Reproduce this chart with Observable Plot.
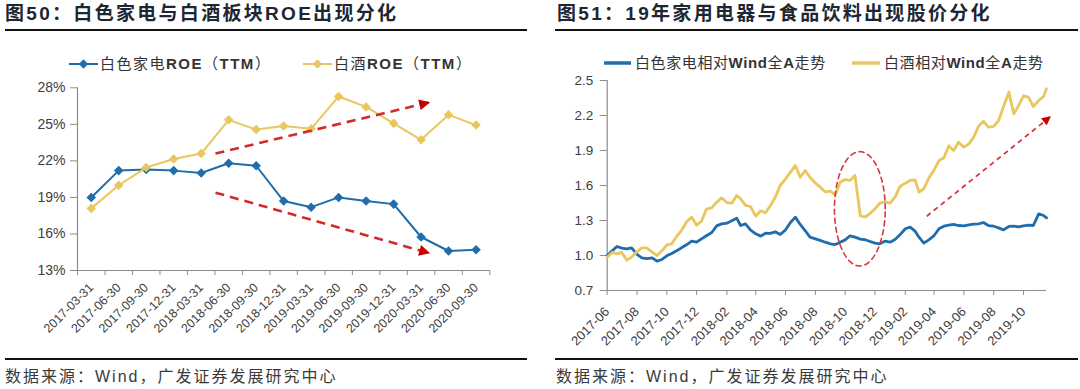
<!DOCTYPE html>
<html>
<head>
<meta charset="utf-8">
<script src="https://cdn.jsdelivr.net/npm/d3@7"></script>
<script src="https://cdn.jsdelivr.net/npm/@observablehq/plot@0.6"></script>
<style>
  body { margin: 0; background: #fff; }
  #wrap { position: relative; width: 1080px; height: 389px; overflow: hidden;
    font-family: "Liberation Sans", Arial, "Noto Sans CJK SC", sans-serif; color: #333; background: #fff; }
  .title { position: absolute; top: 2px; font-size: 19px; line-height: 24px; font-weight: bold; color: #1c2733;
    letter-spacing: 2.3px; white-space: nowrap; }
  .rule { position: absolute; height: 2px; background: #111; }
  .src { position: absolute; top: 367px; font-size: 16px; line-height: 20px; color: #3a3a3a; letter-spacing: 2px; white-space: nowrap; }
  .leg { position: absolute; font-size: 15px; line-height: 20px; color: #333; white-space: nowrap; display: flex; align-items: center; }
  .leg b { font-weight: bold; }
  .chart { position: absolute; }
</style>
</head>
<body>
<div id="wrap">
  <div class="title" style="left:5px">图50：白色家电与白酒板块ROE出现分化</div>
  <div class="rule" style="left:5px;top:29px;width:522px"></div>
  <div class="title" style="left:557px">图51：19年家用电器与食品饮料出现股价分化</div>
  <div class="rule" style="left:555px;top:29px;width:523px"></div>

  <div id="legL"></div>
  <div id="legR"></div>

  <div id="chartL" class="chart" style="left:0px;top:75px"></div>
  <div id="chartR" class="chart" style="left:540px;top:65px"></div>

  <div class="rule" style="left:5px;top:358px;width:522px"></div>
  <div class="rule" style="left:555px;top:358px;width:523px"></div>
  <div class="src" style="left:5px">数据来源：Wind，广发证券发展研究中心</div>
  <div class="src" style="left:556px">数据来源：Wind，广发证券发展研究中心</div>
</div>
<script>
// ---------------- Data: left chart (ROE TTM, %) ----------------
const roeQuarters = ["2017-03-31","2017-06-30","2017-09-30","2017-12-31","2018-03-31","2018-06-30","2018-09-30","2018-12-31","2019-03-31","2019-06-30","2019-09-30","2019-12-31","2020-03-31","2020-06-30","2020-09-30"];
const roeAppliance = [19.0, 21.2, 21.3, 21.2, 21.0, 21.8, 21.6, 18.7, 18.2, 19.0, 18.7, 18.45, 15.75, 14.6, 14.7];
const roeLiquor    = [18.1, 20.0, 21.45, 22.15, 22.6, 25.37, 24.57, 24.86, 24.63, 27.29, 26.43, 25.08, 23.73, 25.78, 24.94];
const roeTicks = [13, 16, 19, 22, 25, 28];
const roeSeriesNames = ["白色家电ROE（TTM）", "白酒ROE（TTM）"];
// annotation arrows (category index, value %)
const roeArrowX1 = [4.52, 4.52];
const roeArrowY1 = [22.6, 19.39];
const roeArrowX2 = [12.33, 12.33];
const roeArrowY2 = [26.82, 14.41];

// ---------------- Data: right chart (relative to Wind All A) ----------------
const relDates = [
 "2017-06-01","2017-06-11","2017-06-21","2017-07-01","2017-07-11","2017-07-21","2017-08-01","2017-08-11","2017-08-21",
 "2017-09-01","2017-09-11","2017-09-21","2017-10-01","2017-10-11","2017-10-21","2017-11-01","2017-11-11","2017-11-21",
 "2017-12-01","2017-12-11","2017-12-21","2018-01-01","2018-01-11","2018-01-21","2018-02-01","2018-02-11","2018-02-21",
 "2018-03-01","2018-03-11","2018-03-21","2018-04-01","2018-04-11","2018-04-21","2018-05-01","2018-05-11","2018-05-21",
 "2018-06-01","2018-06-11","2018-06-21","2018-07-01","2018-07-11","2018-07-21","2018-08-01","2018-08-11","2018-08-21",
 "2018-09-01","2018-09-11","2018-09-21","2018-10-01","2018-10-11","2018-10-21","2018-11-01","2018-11-11","2018-11-21",
 "2018-12-01","2018-12-11","2018-12-21","2019-01-01","2019-01-11","2019-01-21","2019-02-01","2019-02-11","2019-02-21",
 "2019-03-01","2019-03-11","2019-03-21","2019-04-01","2019-04-11","2019-04-21","2019-05-01","2019-05-11","2019-05-21",
 "2019-06-01","2019-06-11","2019-06-21","2019-07-01","2019-07-11","2019-07-21","2019-08-01","2019-08-11","2019-08-21",
 "2019-09-01","2019-09-11","2019-09-21","2019-10-01","2019-10-11","2019-10-21","2019-11-01","2019-11-11","2019-11-17"];
const relAppliance = [
 1.000,1.040,1.077, 1.063,1.057,1.066, 1.009,0.980,0.974,
 0.980,0.951,0.966, 0.997,1.017,1.040, 1.069,1.094,1.123,
 1.114,1.143,1.169, 1.197,1.254,1.271, 1.277,1.297,1.320,
 1.257,1.271,1.220, 1.186,1.166,1.191, 1.189,1.203,1.180,
 1.220,1.283,1.329, 1.266,1.214,1.157, 1.143,1.129,1.114,
 1.100,1.094,1.114, 1.134,1.169,1.157, 1.140,1.135,1.120,
 1.106,1.100,1.123, 1.114,1.137,1.177, 1.229,1.243,1.209,
 1.157,1.106,1.134, 1.171,1.229,1.251, 1.260,1.266,1.257,
 1.254,1.263,1.269, 1.271,1.283,1.257, 1.251,1.237,1.220,
 1.249,1.251,1.246, 1.254,1.260,1.257, 1.357,1.343,1.323];
const relLiquor = [
 0.986,1.026,1.014, 1.026,0.960,0.986, 1.034,1.066,1.066,
 1.029,1.000,1.040, 1.091,1.100,1.163, 1.220,1.291,1.329,
 1.260,1.294,1.397, 1.409,1.457,1.494, 1.454,1.449,1.514,
 1.486,1.429,1.420, 1.337,1.383,1.366, 1.429,1.500,1.600,
 1.657,1.714,1.771, 1.671,1.729,1.671, 1.620,1.586,1.546,
 1.551,1.520,1.629, 1.651,1.643,1.686, 1.340,1.330,1.360,
 1.400,1.449,1.460, 1.449,1.500,1.591, 1.620,1.643,1.649,
 1.543,1.571,1.663, 1.734,1.814,1.837, 1.940,1.900,1.971,
 1.929,1.957,2.014, 2.109,2.151,2.100, 2.106,2.157,2.277,
 2.400,2.214,2.286, 2.369,2.357,2.277, 2.329,2.363,2.429];
const relTicks = [0.7, 1.0, 1.3, 1.6, 1.9, 2.2, 2.5];
const relTickMonths = ["2017-06-01","2017-08-01","2017-10-01","2017-12-01","2018-02-01","2018-04-01","2018-06-01","2018-08-01","2018-10-01","2018-12-01","2019-02-01","2019-04-01","2019-06-01","2019-08-01","2019-10-01"];
const relDomain = ["2017-06-01", "2019-11-17"];
const relSeriesNames = ["白色家电相对Wind全A走势", "白酒相对Wind全A走势"];
// annotations
const relArrowDates = ["2019-03-17", "2019-11-26"];
const relArrowValues = [1.337, 2.194];
const relCircleDate = "2018-10-31", relCircleValue = 1.40, relCircleRxDays = 52, relCircleRy = 0.49;

// ---------------- Styles ----------------
const BLUE = "#1f6dac", GOLD = "#e9c65e", RED = "#d42a2a", AXIS = "#8c8c8c", TXT = "#404040";
const FONT = '"Liberation Sans", Arial, "Noto Sans CJK SC", sans-serif';

function addMarker(svg, id, color, w, h) {
  const ns = "http://www.w3.org/2000/svg";
  let defs = svg.querySelector("defs");
  if (!defs) { defs = document.createElementNS(ns, "defs"); svg.insertBefore(defs, svg.firstChild); }
  const m = document.createElementNS(ns, "marker");
  m.setAttribute("id", id); m.setAttribute("viewBox", "0 0 10 10");
  m.setAttribute("refX", "10"); m.setAttribute("refY", "5");
  m.setAttribute("markerWidth", w); m.setAttribute("markerHeight", h);
  m.setAttribute("markerUnits", "userSpaceOnUse"); m.setAttribute("orient", "auto");
  const p = document.createElementNS(ns, "path");
  p.setAttribute("d", "M0,0L10,5L0,10Z"); p.setAttribute("fill", color); p.setAttribute("stroke", "none");
  m.appendChild(p); defs.appendChild(m);
}

// ---------------- Left chart ----------------
const idx = d3.range(roeQuarters.length);
const roeArrows = roeArrowX1.map((_, i) => ({x1: roeArrowX1[i], y1: roeArrowY1[i], x2: roeArrowX2[i], y2: roeArrowY2[i]}));
const left = Plot.plot({
  width: 530, height: 270,
  marginLeft: 77, marginRight: 40.7, marginTop: 12.3, marginBottom: 75,
  x: {domain: [-0.5, 14.5]},
  y: {domain: [13, 28]},
  style: {fontFamily: FONT, fontSize: "13px", color: TXT, background: "transparent", overflow: "visible"},
  marks: [
    Plot.axisY({ticks: roeTicks, tickFormat: d => d + "%", tickSize: 7, tickPadding: 5, fontSize: 14, stroke: AXIS, fill: TXT, label: null}),
    Plot.axisX({ticks: d3.range(-0.5, 15, 1), tickFormat: () => "", tickSize: 5, stroke: AXIS, label: null}),
    Plot.axisX({ticks: idx, tickFormat: i => roeQuarters[i], tickSize: 0, tickPadding: 15, tickRotate: -45, fontSize: 12.5, fill: TXT, label: null}),
    Plot.ruleX([-0.5], {stroke: AXIS, strokeWidth: 1.2}),
    Plot.ruleY([13], {stroke: AXIS, strokeWidth: 1.2}),
    Plot.line(idx, {x: i => i, y: i => roeAppliance[i], stroke: BLUE, strokeWidth: 2}),
    Plot.dot(idx, {x: i => i, y: i => roeAppliance[i], symbol: "diamond2", r: 4.3, fill: BLUE, stroke: "none"}),
    Plot.line(idx, {x: i => i, y: i => roeLiquor[i], stroke: GOLD, strokeWidth: 2}),
    Plot.dot(idx, {x: i => i, y: i => roeLiquor[i], symbol: "diamond2", r: 4.3, fill: GOLD, stroke: "none"}),
    Plot.link(roeArrows, {x1: "x1", y1: "y1", x2: "x2", y2: "y2", stroke: RED, strokeWidth: 2.6, strokeDasharray: "9,6", ariaDescription: "arrowL"})
  ]
});
addMarker(left, "headL", "#c80000", 14, 11);
left.querySelectorAll('g[aria-description="arrowL"] path').forEach(p => p.setAttribute("marker-end", "url(#headL)"));
document.getElementById("chartL").appendChild(left);

// ---------------- Right chart ----------------
const parse = d3.utcParse("%Y-%m-%d");
const relData = relDates.map((d, i) => ({date: parse(d), a: relAppliance[i], l: relLiquor[i]}));
const xTicks = relTickMonths.map(parse);
const cDate = parse(relCircleDate);
const ellipse = d3.range(0, 97).map(k => {
  const t = k / 96 * 2 * Math.PI;
  return {date: new Date(+cDate + relCircleRxDays * Math.cos(t) * 864e5), v: relCircleValue + relCircleRy * Math.sin(t)};
});
const relArrow = [{x1: parse(relArrowDates[0]), y1: relArrowValues[0], x2: parse(relArrowDates[1]), y2: relArrowValues[1]}];
const right = Plot.plot({
  width: 540, height: 300,
  marginLeft: 66.7, marginRight: 34, marginTop: 15, marginBottom: 75,
  x: {type: "utc", domain: relDomain.map(parse)},
  y: {domain: [0.7, 2.5]},
  style: {fontFamily: FONT, fontSize: "13px", color: TXT, background: "transparent", overflow: "visible"},
  marks: [
    Plot.axisY({ticks: relTicks, tickFormat: d3.format(".1f"), tickSize: 7, tickPadding: 7, fontSize: 13.5, stroke: AXIS, fill: TXT, label: null}),
    Plot.axisX({ticks: xTicks, tickFormat: d3.utcFormat("%Y-%m"), tickSize: 5, tickPadding: 14, tickRotate: -45, fontSize: 13, stroke: AXIS, fill: TXT, label: null}),
    Plot.ruleX([parse(relDomain[0])], {stroke: AXIS, strokeWidth: 1.2}),
    Plot.ruleY([0.7], {stroke: AXIS, strokeWidth: 1.2}),
    Plot.line(relData, {x: "date", y: "a", stroke: BLUE, strokeWidth: 2.8, strokeLinejoin: "round"}),
    Plot.line(relData, {x: "date", y: "l", stroke: GOLD, strokeWidth: 2.8, strokeLinejoin: "round"}),
    Plot.line(ellipse, {x: "date", y: "v", stroke: "#d9363b", strokeWidth: 1.6, strokeDasharray: "5,4", curve: "linear"}),
    Plot.link(relArrow, {x1: "x1", y1: "y1", x2: "x2", y2: "y2", stroke: "#d9363b", strokeWidth: 1.8, strokeDasharray: "5,4", ariaDescription: "arrowR"})
  ]
});
addMarker(right, "headR", "#c80000", 11, 9);
right.querySelectorAll('g[aria-description="arrowR"] path').forEach(p => p.setAttribute("marker-end", "url(#headR)"));
document.getElementById("chartR").appendChild(right);

// ---------------- Legends ----------------
function legendHTML(items) {
  return items.map(it => {
    const sw = it.diamond
      ? `<svg width="${it.w}" height="12" style="margin-right:2px"><line x1="0" y1="6" x2="${it.w}" y2="6" stroke="${it.color}" stroke-width="2"/><path d="M${it.w/2},1.3L${it.w/2+4.7},6L${it.w/2},10.7L${it.w/2-4.7},6Z" fill="${it.color}"/></svg>`
      : `<svg width="${it.w}" height="12" style="margin-right:4px"><line x1="0" y1="6" x2="${it.w}" y2="6" stroke="${it.color}" stroke-width="3.5"/></svg>`;
    const label = it.label.replace(/([A-Za-z]+)/g, "<b>$1</b>");
    return `<div class="leg" style="left:${it.x}px;top:${it.y}px;letter-spacing:${it.ls}px">${sw}<span>${label}</span></div>`;
  }).join("");
}
document.getElementById("legL").innerHTML = legendHTML([
  {x: 69, y: 54, w: 29, color: BLUE, diamond: true, label: roeSeriesNames[0], ls: 1.5},
  {x: 303, y: 54, w: 29, color: GOLD, diamond: true, label: roeSeriesNames[1], ls: 1.5}
]);
document.getElementById("legR").innerHTML = legendHTML([
  {x: 604, y: 53, w: 27, color: BLUE, diamond: false, label: relSeriesNames[0], ls: 0.6},
  {x: 852, y: 53, w: 28, color: GOLD, diamond: false, label: relSeriesNames[1], ls: 0.6}
]);
</script>
</body>
</html>
